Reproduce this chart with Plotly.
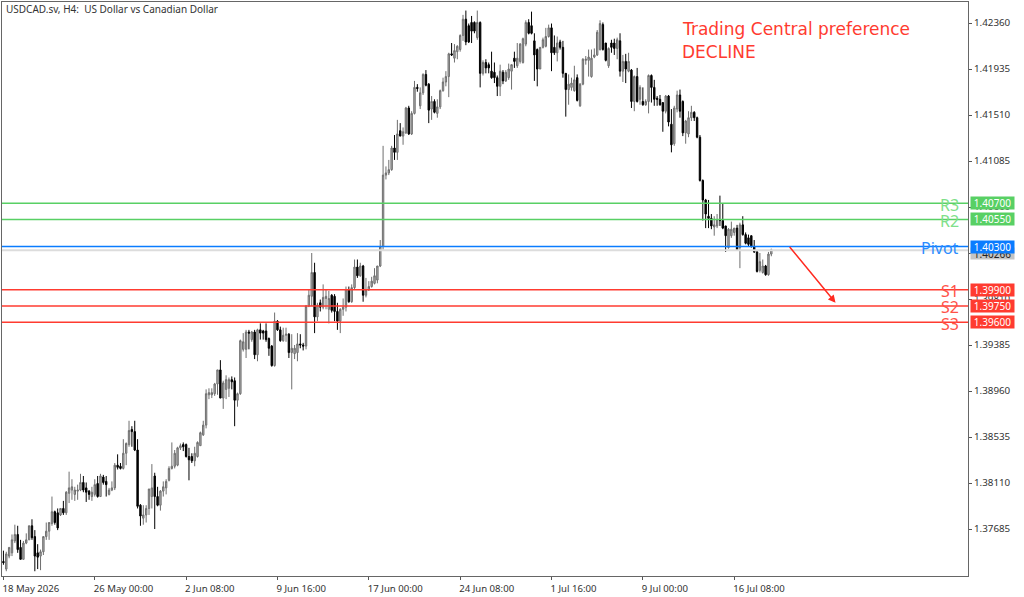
import plotly.graph_objects as go

# H4 candles, in points (0.0001) above 1.3700
base = 1.37
opens_pt = [
    39,32,44,47,58,64,52,41,56,59,
    72,62,47,44,48,62,67,74,85,84,
    82,88,84,102,105,101,104,105,112,107,
    104,99,101,111,99,117,113,101,105,107,
    128,127,125,139,147,161,159,142,91,79,
    82,88,99,118,99,91,104,107,114,125,
    127,128,144,147,147,136,136,132,136,146,
    156,165,193,193,194,203,216,190,198,199,
    207,206,188,194,235,235,251,244,251,230,
    253,252,252,245,238,220,261,253,243,248,
    249,232,231,232,240,239,238,275,284,306,
    265,278,274,282,272,285,284,270,261,272,
    274,290,279,292,311,303,312,285,290,293,
    296,299,312,330,396,398,401,421,417,437,
    432,435,458,434,453,477,460,472,489,480,
    457,464,453,459,474,482,487,508,504,510,
    512,525,540,534,537,537,523,537,490,500,
    498,492,491,486,478,491,483,486,492,504,
    497,501,500,517,537,534,520,512,494,514,
    515,524,532,514,509,519,514,490,475,477,
    474,486,460,480,502,502,487,505,507,512,
    535,518,497,518,518,513,520,492,501,492,
    493,464,487,466,464,461,464,488,477,467,
    466,463,455,469,443,425,457,470,464,435,
    434,449,454,449,431,391,373,358,356,348,
    349,354,354,349,329,340,343,347,329,350,
    341,338,340,330,325,308,306,312,304,323,
]
highs_pt = [
    49,48,52,64,73,72,59,58,65,72,
    78,68,55,50,62,75,75,99,86,88,
    88,95,104,122,115,108,110,120,118,112,
    105,108,115,118,120,119,118,107,113,130,
    138,130,152,149,169,164,169,152,92,91,
    91,106,129,121,108,105,113,115,127,149,
    142,145,148,149,148,144,139,145,150,159,
    169,198,199,199,204,216,225,206,211,209,
    210,209,195,244,250,253,253,252,253,254,
    259,253,259,246,239,269,262,256,255,255,
    250,249,239,250,249,241,276,290,324,315,
    278,281,295,290,289,286,286,278,273,282,
    293,293,295,318,318,315,313,301,298,302,
    310,312,336,423,404,410,423,433,447,444,
    440,459,460,455,483,480,477,490,493,481,
    469,466,466,475,486,492,509,518,517,516,
    526,544,548,536,543,538,548,538,502,503,
    500,510,500,488,498,493,493,499,498,510,
    518,518,523,539,540,547,527,513,514,523,
    532,535,536,525,524,521,520,490,489,486,
    497,489,481,504,506,512,512,513,530,539,
    537,518,514,521,522,523,527,507,508,509,
    494,488,495,479,477,466,489,489,484,469,
    470,463,470,470,457,460,474,475,465,447,
    455,460,455,450,433,392,374,373,360,358,
    360,377,370,349,347,353,347,350,352,358,
    343,341,340,336,326,324,318,313,325,328,
]
lows_pt = [
    36,30,42,44,56,47,41,41,55,59,
    59,30,32,31,45,59,59,72,73,68,
    81,82,82,93,96,95,96,104,103,94,
    96,95,99,98,99,110,99,100,104,105,
    124,124,124,128,145,145,141,88,72,73,
    75,82,88,69,90,86,99,101,113,124,
    125,127,142,141,135,114,130,127,135,146,
    155,162,189,190,192,193,190,180,189,191,
    198,164,182,193,233,227,235,242,226,224,
    244,244,242,229,219,219,252,242,242,242,
    227,198,226,224,236,234,235,274,275,250,
    261,270,272,272,259,269,261,253,250,266,
    270,278,278,290,301,302,279,283,289,292,
    295,296,311,327,392,396,400,410,410,432,
    424,434,433,433,452,473,457,470,478,444,
    447,453,449,457,473,478,468,506,500,503,
    510,520,516,518,518,527,521,477,488,490,
    490,485,481,469,469,480,482,484,475,495,
    495,499,499,515,526,526,483,478,494,513,
    514,523,492,507,501,512,486,450,461,474,
    473,464,459,479,498,487,486,504,506,511,
    511,501,495,509,507,503,487,482,481,491,
    458,455,463,461,460,460,453,463,460,460,
    460,436,453,441,417,423,454,449,432,425,
    431,446,446,430,390,354,347,347,346,340,
    347,349,346,325,328,338,340,327,310,340,
    332,330,329,324,306,306,305,303,303,321,
]
closes_pt = [
    38,46,52,59,64,50,41,56,59,72,
    61,44,43,48,62,67,75,85,75,70,
    88,84,103,107,108,105,105,112,105,103,
    101,103,110,99,118,112,110,105,107,128,
    126,125,139,148,160,159,142,90,81,82,
    88,106,107,99,91,104,108,113,125,127,
    139,144,146,145,136,133,132,139,149,158,
    165,194,195,195,203,216,190,204,207,207,
    205,188,194,243,242,251,250,251,230,253,
    250,250,244,236,220,261,253,243,248,249,
    232,236,236,240,239,238,275,285,306,265,
    276,274,283,284,282,271,270,261,272,274,
    290,279,292,311,303,312,285,290,293,298,
    303,312,330,396,398,401,421,417,434,432,
    436,458,434,453,477,476,472,489,479,456,
    464,454,459,474,482,487,508,507,511,515,
    525,540,519,519,529,529,537,490,500,495,
    495,486,486,478,492,483,491,494,498,501,
    504,517,522,537,527,527,507,494,514,521,
    524,532,509,509,518,514,490,475,480,481,
    484,465,480,503,503,505,504,507,528,536,
    512,502,513,514,513,521,492,501,494,501,
    464,487,464,477,461,464,488,477,466,466,
    461,455,469,445,424,458,470,455,435,446,
    449,454,449,431,391,373,360,356,349,350,
    355,354,347,340,346,346,347,327,350,341,
    333,332,330,325,307,316,312,304,323,327,
]

time_ticks = [0, 32, 64, 96, 128, 160, 192, 224, 256]
time_labels = ["18 May 2026", "26 May 00:00", "2 Jun 08:00", "9 Jun 16:00", "17 Jun 00:00",
               "24 Jun 08:00", "1 Jul 16:00", "9 Jul 00:00", "16 Jul 08:00"]
price_ticks = [1.37685, 1.38110, 1.38535, 1.38960, 1.39385, 1.39810,
               1.40235, 1.40660, 1.41085, 1.41510, 1.41935, 1.42360]

level_names = ["R3", "R2", "Pivot", "S1", "S2", "S3"]
level_values = [1.40700, 1.40550, 1.40300, 1.39900, 1.39750, 1.39600]
level_colors = ["#58d064", "#58d064", "#0a7cff", "#ff3b30", "#ff3b30", "#ff3b30"]
level_text_colors = ["#7fe08a", "#7fe08a", "#2b8cff", "#ff5248", "#ff5248", "#ff5248"]
last_price = 1.40266

opens = [base + v / 10000 for v in opens_pt]
highs = [base + v / 10000 for v in highs_pt]
lows = [base + v / 10000 for v in lows_pt]
closes = [base + v / 10000 for v in closes_pt]
bars = list(range(len(opens)))

fig = go.Figure()
fig.add_trace(go.Candlestick(
    x=bars, open=opens, high=highs, low=lows, close=closes,
    increasing=dict(line=dict(color="#6e6e6e", width=1), fillcolor="#b4b4b4"),
    decreasing=dict(line=dict(color="#000000", width=1), fillcolor="#000000"),
    whiskerwidth=0, showlegend=False, hoverinfo="skip",
))

# current price line sits under the pivot
fig.add_hline(y=last_price, line=dict(color="#dcdcdc", width=2))
fig.add_annotation(xref="paper", yref="y", x=1.0016, y=last_price - 0.00028, xanchor="left", text="1.40266",
                   showarrow=False, bgcolor="#c4c4c4", font=dict(size=10, color="#222222"),
                   borderpad=0, width=43, height=11)

for name, val, col, tcol in zip(level_names, level_values, level_colors, level_text_colors):
    fig.add_hline(y=val, line=dict(color=col, width=1.6))
    fig.add_annotation(xref="paper", yref="y", x=0.9925, y=val - 0.00012, xanchor="right", text=name,
                       showarrow=False, font=dict(size=16, color=tcol))
    fig.add_annotation(xref="paper", yref="y", x=1.0016, y=val, xanchor="left", text="%.5f" % val,
                       showarrow=False, bgcolor=col, font=dict(size=10, color="white"),
                       borderpad=0, width=43, height=12)

fig.add_annotation(xref="paper", yref="paper", x=0.002, y=1.0, xanchor="left", yanchor="top", yshift=2,
                   text="USDCAD.sv, H4:\u00a0\u00a0US Dollar vs Canadian Dollar", showarrow=False,
                   font=dict(size=10, color="#333333"))
fig.add_annotation(xref="x", yref="y", x=237, y=1.42310, xanchor="left",
                   text="Trading Central preference", showarrow=False,
                   font=dict(family="DejaVu Sans", size=17, color="#ff3b30"))
fig.add_annotation(xref="x", yref="y", x=237, y=1.42095, xanchor="left",
                   text="DECLINE", showarrow=False,
                   font=dict(family="DejaVu Sans", size=17, color="#ff3b30"))
# arrow to the target area
fig.add_annotation(xref="x", yref="y", axref="x", ayref="y", x=291.5, y=1.3978, ax=275, ay=1.4031,
                   text="", showarrow=True, arrowhead=2, arrowsize=1, arrowwidth=1.5, arrowcolor="#ff2a20")

fig.update_layout(
    width=1024, height=597,
    margin=dict(l=2, r=56, t=2, b=21),
    paper_bgcolor="white", plot_bgcolor="white",
    font=dict(family="Noto Sans", size=10, color="#333333"),
    showlegend=False,
)
fig.update_xaxes(
    range=[-0.5, 337.9], rangeslider_visible=False, showgrid=False, zeroline=False,
    tickmode="array", tickvals=time_ticks, ticktext=time_labels, ticks="outside", ticklen=3,
    ticklabelposition="outside right", tickcolor="#555555", tickfont=dict(size=9.6),
    ticklabelshift=-2, ticklabelstandoff=3,
    showline=True, linecolor="#666666", linewidth=1, mirror=True,
)
fig.update_yaxes(
    range=[1.37256, 1.42559], side="right", showgrid=False, zeroline=False,
    tickmode="array", tickvals=price_ticks, ticktext=["%.5f" % v for v in price_ticks],
    ticks="outside", ticklen=3, tickcolor="#555555", tickfont=dict(size=9.8),
    ticklabelshift=-1,
    showline=True, linecolor="#666666", linewidth=1, mirror=True,
)

fig.write_html("out.html", config=dict(displayModeBar=False), post_script="document.body.style.margin='0';")
